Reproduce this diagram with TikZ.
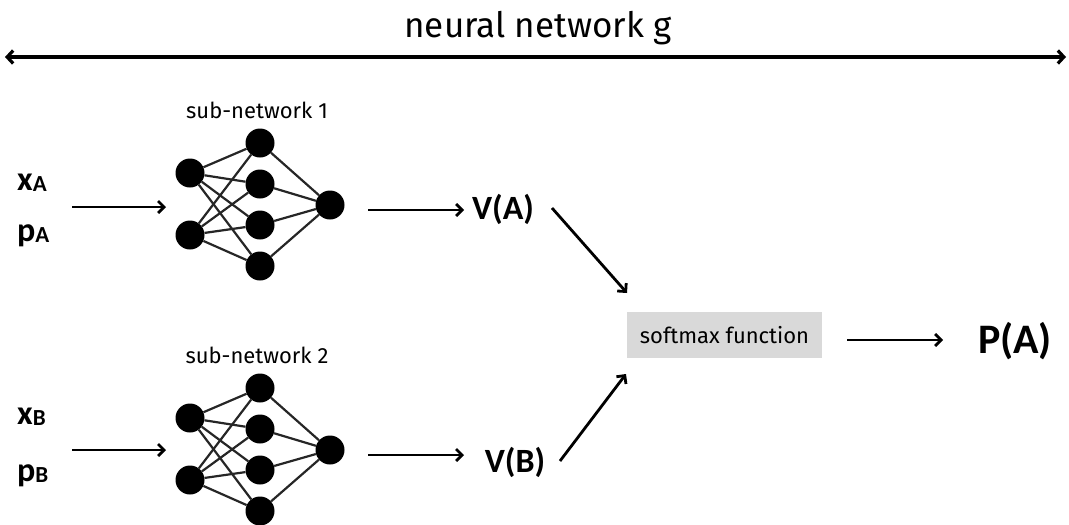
\documentclass[tikz,border=0pt]{standalone}
\usepackage{fontspec}
\setmainfont{Fira Sans}
\newfontfamily\labelfont{Carlito}
\usetikzlibrary{arrows.meta}
\definecolor{boxgray}{HTML}{D9D9D9}
\begin{document}
\begin{tikzpicture}[x=1pt,y=-1pt,
  neuron/.style={circle,fill=black,minimum size=29pt,inner sep=0pt},
  wire/.style={line width=2.2pt,black!85},
  flow/.style={line width=2.8pt,-{Straight Barb[length=6pt,width=12pt]}},
  var/.style={font=\labelfont\bfseries\fontsize{34}{34}\selectfont,inner sep=0pt},
  sublabel/.style={font=\fontsize{22}{22}\selectfont,inner sep=0pt}]
\useasboundingbox (0,0) rectangle (1069,525);

% title and span arrow
\node[font=\fontsize{35}{35}\selectfont,inner sep=0pt] (title) at (538,28) {neural network g};
\coordinate (gl) at (5,57);
\coordinate (gr) at (1066,57);
\draw[line width=3.2pt,{Straight Barb[length=6pt,width=13pt]}-{Straight Barb[length=6pt,width=13pt]}] (gl) -- (gr);

% two sub-networks
\foreach \k/\dy in {1/0,2/245}{
  \node[sublabel] (lab\k) at (257,110+\dy) {sub-network \k};
  \node[neuron] (n\k i1) at (190,173+\dy) {};
  \node[neuron] (n\k i2) at (190,235+\dy) {};
  \node[neuron] (n\k h1) at (260,143+\dy) {};
  \node[neuron] (n\k h2) at (260,184+\dy) {};
  \node[neuron] (n\k h3) at (260,225+\dy) {};
  \node[neuron] (n\k h4) at (260,266+\dy) {};
  \node[neuron] (n\k o) at (330,205+\dy) {};
  \foreach \i in {1,2}{
    \foreach \h in {1,2,3,4}{
      \draw[wire] (n\k i\i) -- (n\k h\h);
    }
  }
  \foreach \h in {1,2,3,4}{
    \draw[wire] (n\k h\h) -- (n\k o);
  }
}

% inputs
\node[var,anchor=base west] (xa) at (17,190) {x\raisebox{-1pt}{\fontsize{23}{23}\selectfont A}};
\node[var,anchor=base west] (pa) at (17,241) {p\raisebox{-1pt}{\fontsize{23}{23}\selectfont A}};
\node[var,anchor=base west] (xb) at (17,424) {x\raisebox{-1pt}{\fontsize{23}{23}\selectfont B}};
\node[var,anchor=base west] (pb) at (17,481) {p\raisebox{-1pt}{\fontsize{23}{23}\selectfont B}};

\coordinate (ina) at (72,207);
\coordinate (inae) at (166,207);
\coordinate (inb) at (72,450);
\coordinate (inbe) at (166,450);
\draw[flow] (ina) -- (inae);
\draw[flow] (inb) -- (inbe);

% values
\node[var] (va) at (503,209) {V(A)};
\node[var] (vb) at (515,462) {V(B)};
\coordinate (oa) at (368,210);
\coordinate (oae) at (464,210);
\coordinate (ob) at (368,455);
\coordinate (obe) at (464,455);
\draw[flow] (oa) -- (oae);
\draw[flow] (ob) -- (obe);

% softmax
\node[fill=boxgray,minimum width=195pt,minimum height=46pt,inner sep=0pt,
      font=\fontsize{22}{22}\selectfont] (sm) at (724.5,335) {softmax function};
\coordinate (da) at (552,208);
\coordinate (dae) at (627,293);
\coordinate (db) at (560,461);
\coordinate (dbe) at (626,374);
\draw[flow] (da) -- (dae);
\draw[flow] (db) -- (dbe);

% output
\node[var,font=\labelfont\bfseries\fontsize{42}{42}\selectfont] (pA) at (1015,341) {P(A)};
\coordinate (so) at (847,340);
\coordinate (soe) at (943,340);
\draw[flow] (so) -- (soe);
\end{tikzpicture}
\end{document}
